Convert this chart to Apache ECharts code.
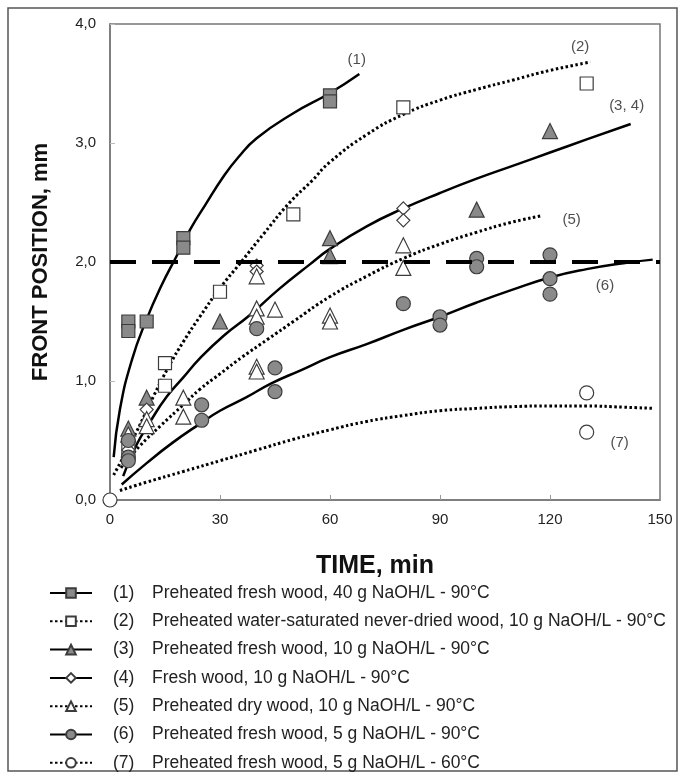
<!DOCTYPE html>
<html>
<head>
<meta charset="utf-8">
<script src="https://cdn.jsdelivr.net/npm/echarts@6/dist/echarts.min.js"></script>
<style>
html, body { margin: 0; background: #fff; }
#main { width: 685px; height: 779px; }
</style>
</head>
<body>
<div id="main"></div>
<script>
(function () {
    'use strict';

    // 图例名称与说明
    var names = ['(1)', '(2)', '(3)', '(4)', '(5)', '(6)', '(7)'];
    var legendText = [
        'Preheated fresh wood, 40 g NaOH/L - 90°C',
        'Preheated water-saturated never-dried wood, 10 g NaOH/L - 90°C',
        'Preheated fresh wood, 10 g NaOH/L - 90°C',
        'Fresh wood, 10 g NaOH/L - 90°C',
        'Preheated dry wood, 10 g NaOH/L - 90°C',
        'Preheated fresh wood, 5 g NaOH/L - 90°C',
        'Preheated fresh wood, 5 g NaOH/L - 60°C'
    ];

    // 测量点 [time, position]
    var pts1 = [[5, 1.5], [5, 1.42], [10, 1.5], [20, 2.2], [20, 2.12], [60, 3.4], [60, 3.35]];
    var pts2 = [[5, 0.42], [15, 1.15], [15, 0.96], [30, 1.75], [50, 2.4], [80, 3.3], [130, 3.5]];
    var pts3 = [[5, 0.6], [10, 0.86], [30, 1.5], [60, 2.2], [60, 2.05], [100, 2.44], [120, 3.1]];
    var pts4 = [[5, 0.42], [10, 0.76], [40, 1.97], [40, 1.92], [80, 2.45], [80, 2.35]];
    var pts5 = [[5, 0.55], [10, 0.68], [10, 0.62], [20, 0.86], [20, 0.7], [40, 1.88], [40, 1.61], [40, 1.54],
        [40, 1.12], [40, 1.08], [45, 1.6], [60, 1.55], [60, 1.5], [80, 2.14], [80, 1.95]];
    var pts6 = [[5, 0.5], [5, 0.36], [5, 0.33], [25, 0.8], [25, 0.67], [40, 1.44], [45, 1.11], [45, 0.91],
        [80, 1.65], [90, 1.54], [90, 1.47], [100, 2.03], [100, 1.96], [120, 2.06], [120, 1.86], [120, 1.73]];
    var pts7 = [[0, 0], [130, 0.9], [130, 0.57]];

    // 拟合曲线（读图取点）
    var fit1 = [[1, 0.36], [2.7, 0.76], [6, 1.18], [10, 1.52], [14, 1.8], [18, 2.04], [22, 2.28], [26, 2.48],
        [31, 2.72], [35, 2.88], [40, 3.04], [50, 3.25], [60, 3.42], [68, 3.58]];
    var fit2 = [[1, 0.21], [7, 0.56], [12, 0.88], [16, 1.12], [20, 1.33], [24.5, 1.54], [30, 1.78], [35.5, 1.99],
        [42, 2.24], [49, 2.5], [55, 2.68], [60, 2.84], [70, 3.07], [80, 3.24], [90, 3.36], [100, 3.45],
        [110, 3.53], [120, 3.61], [131, 3.68]];
    var fit34 = [[3.6, 0.2], [7, 0.45], [11, 0.66], [15.5, 0.87], [20, 1.03], [24.5, 1.19], [31, 1.38],
        [38, 1.55], [46, 1.77], [54.5, 1.98], [60, 2.11], [70, 2.3], [80, 2.45], [90, 2.58], [100, 2.7],
        [110, 2.81], [120, 2.92], [130, 3.03], [142, 3.16]];
    var fit5 = [[3, 0.27], [8, 0.45], [14, 0.63], [20, 0.8], [24.5, 0.93], [30, 1.06], [36, 1.2], [43, 1.35],
        [50, 1.5], [60, 1.71], [70, 1.88], [80, 2.03], [90, 2.15], [100, 2.25], [109, 2.33], [118, 2.39]];
    var fit6 = [[3.2, 0.13], [10, 0.31], [17, 0.48], [24.5, 0.64], [30, 0.75], [37, 0.86], [44, 0.98],
        [52, 1.09], [60, 1.2], [70, 1.31], [80, 1.43], [90, 1.54], [100, 1.66], [110, 1.77], [120, 1.87],
        [130, 1.94], [140, 1.99], [148, 2.02]];
    var fit7 = [[2.7, 0.08], [10, 0.15], [20, 0.24], [30, 0.33], [40, 0.42], [50, 0.51], [60, 0.59], [70, 0.66],
        [80, 0.71], [90, 0.75], [100, 0.77], [110, 0.785], [120, 0.79], [130, 0.79], [140, 0.78], [148, 0.77]];

    // 曲线标注
    var curveTags = ['(1)', '(2)', '(3, 4)', '(5)', '(6)', '(7)'];
    var tagAt = [[67.3, 3.7], [128.2, 3.81], [140.9, 3.31], [125.9, 2.35], [135, 1.8], [139, 0.48]];

    var limit = 2.0;

    var pts = [pts1, pts2, pts3, pts4, pts5, pts6, pts7];
    var fits = [fit1, fit2, fit34, [], fit5, fit6, fit7];
    var symbols = ['rect', 'rect', 'triangle', 'diamond', 'triangle', 'circle', 'circle'];
    var sizes = [13, 13, 15, 13, 15, 14, 14];
    var filled = [true, false, true, false, false, true, false];
    var dotted = [false, true, false, false, true, false, true];

    var FONT = '"Liberation Sans", Arial, sans-serif';
    var GRAY = '#8a8a8a';
    var EDGE = '#3c3c3c';

    var myChart = echarts.init(document.getElementById('main'));

    var series = [];
    names.forEach(function (n, i) {
        series.push({
            name: n,
            type: 'line',
            data: fits[i],
            smooth: true,
            showSymbol: false,
            symbol: symbols[i],
            symbolSize: sizes[i],
            itemStyle: {
                color: filled[i] ? GRAY : '#fff',
                borderColor: EDGE,
                borderWidth: 1.2
            },
            lineStyle: {
                color: '#000',
                width: dotted[i] ? 3 : 2.5,
                type: dotted[i] ? [2.5, 2.5] : 'solid'
            },
            z: 2,
            silent: true,
            animation: false
        });
    });
    names.forEach(function (n, i) {
        series.push({
            name: n + ' data',
            type: 'scatter',
            data: pts[i],
            symbol: symbols[i],
            symbolSize: sizes[i],
            itemStyle: {
                color: filled[i] ? GRAY : '#fff',
                borderColor: EDGE,
                borderWidth: 1.2,
                opacity: 1
            },
            clip: false,
            z: 4,
            silent: true,
            animation: false
        });
    });
    // 2.0 mm 虚线
    series.push({
        name: 'limit',
        type: 'line',
        data: [],
        markLine: {
            silent: true,
            symbol: 'none',
            label: { show: false },
            lineStyle: { color: '#000', width: 4, type: [26, 16] },
            data: [{ yAxis: limit }]
        },
        z: 3,
        animation: false
    });
    // 曲线编号
    series.push({
        name: 'tags',
        type: 'scatter',
        symbolSize: 0,
        data: tagAt.map(function (p, i) { return [p[0], p[1], curveTags[i]]; }),
        label: {
            show: true,
            position: 'inside',
            formatter: function (p) { return p.value[2]; },
            color: '#222',
            fontSize: 15,
            fontFamily: FONT
        },
        silent: true,
        animation: false
    });

    var option = {
        backgroundColor: '#fff',
        animation: false,
        graphic: [{
            type: 'rect',
            shape: { x: 8, y: 8, width: 669, height: 763 },
            style: { fill: 'none', stroke: '#555', lineWidth: 1.5 },
            silent: true
        }],
        grid: {
            left: 110,
            right: 25,
            top: 24,
            bottom: 279,
            show: true,
            borderColor: '#777',
            borderWidth: 1.5,
            containLabel: false
        },
        xAxis: {
            type: 'value',
            min: 0,
            max: 150,
            interval: 30,
            name: 'TIME, min',
            nameLocation: 'middle',
            nameGap: 54,
            nameTextStyle: {
                fontSize: 25, fontWeight: 'bold', color: '#111', fontFamily: FONT,
                padding: [0, 20, 0, 0]
            },
            axisLine: { lineStyle: { color: '#777', width: 1.5 } },
            axisTick: { inside: true, length: 5, lineStyle: { color: '#999' } },
            axisLabel: { margin: 12, fontSize: 15, color: '#222', fontFamily: FONT },
            splitLine: { show: false }
        },
        yAxis: {
            type: 'value',
            min: 0,
            max: 4,
            interval: 1,
            name: 'FRONT POSITION, mm',
            nameLocation: 'middle',
            nameGap: 58,
            nameTextStyle: { fontSize: 22, fontWeight: 'bold', color: '#111', fontFamily: FONT },
            axisLine: { show: true, lineStyle: { color: '#777', width: 1.5 } },
            axisTick: { show: true, inside: true, length: 5, lineStyle: { color: '#bbb' } },
            axisLabel: {
                margin: 14,
                fontSize: 15,
                color: '#222',
                fontFamily: FONT,
                formatter: function (v) { return v.toFixed(1).replace('.', ','); }
            },
            splitLine: { show: false }
        },
        legend: {
            data: names,
            orient: 'vertical',
            left: 49,
            top: 584,
            padding: 0,
            itemWidth: 42,
            itemHeight: 12,
            itemGap: 10.3,
            selectedMode: false,
            formatter: function (name) {
                return '{n|' + name + '}{t|' + legendText[names.indexOf(name)] + '}';
            },
            textStyle: {
                color: '#222',
                fontFamily: FONT,
                fontSize: 17.5,
                lineHeight: 18,
                rich: {
                    n: { width: 39, padding: [0, 0, 0, 16], fontSize: 17.5, lineHeight: 18, fontFamily: FONT, color: '#222' },
                    t: { fontSize: 17.5, lineHeight: 18, fontFamily: FONT, color: '#222' }
                }
            }
        },
        series: series
    };

    myChart.setOption(option);
    window.addEventListener('resize', function () {
        myChart.resize();
    });
})();
</script>
</body>
</html>
